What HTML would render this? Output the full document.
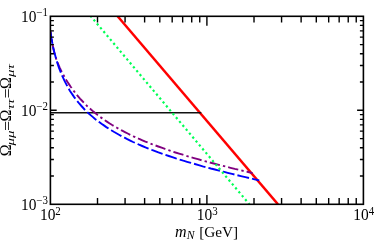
<!DOCTYPE html>
<html><head><meta charset="utf-8"><title>plot</title>
<style>
html,body{margin:0;padding:0;background:#fff;}
body{width:374px;height:241px;overflow:hidden;}
svg{display:block;}
</style></head><body>
<svg width="374" height="241" viewBox="0 0 374 241">
<rect x="0" y="0" width="374" height="241" fill="#fff"/>
<clipPath id="c"><rect x="50.4" y="16.3" width="313.0" height="188.0"/></clipPath>
<g clip-path="url(#c)">
<path d="M117.63 16.3 L277.98 204.3" fill="none" stroke="#ff0000" stroke-width="2.5"/>
<path d="M50.4 112.7 L201.3 112.7" fill="none" stroke="#111" stroke-width="1.6"/>
<path d="M50.5 30.8L50.5 31.1L50.6 31.7L50.7 32.8L50.9 34.2L51.1 35.9L51.4 37.9L51.8 40.1L52.1 42.4L52.6 44.8L53.1 47.2L53.6 49.6L54.2 52.0L54.8 54.4L55.5 56.7L56.2 58.9L57.0 61.1L57.9 63.3L58.8 65.5L59.7 67.6L60.7 69.7L61.8 71.8L62.8 73.9L64.0 76.0L65.2 78.1L66.4 80.2L67.7 82.3L69.1 84.4L70.5 86.5L72.0 88.5L73.5 90.6L75.0 92.6L76.6 94.6L78.3 96.6L80.0 98.6L81.8 100.5L83.6 102.4L85.4 104.3L87.3 106.2L89.3 108.0L91.3 109.8L93.4 111.6L95.5 113.3L97.7 115.1L99.9 116.8L102.2 118.4L104.5 120.0L106.9 121.6L109.3 123.2L111.8 124.8L114.3 126.3L116.9 127.8L119.5 129.3L122.2 130.7L124.9 132.1L127.7 133.5L130.5 134.9L133.4 136.3L136.3 137.6L139.3 139.0L142.4 140.3L145.4 141.6L148.6 142.8L151.8 144.1L155.0 145.3L158.3 146.5L161.6 147.7L165.0 148.9L168.5 150.1L172.0 151.3L175.5 152.5L179.1 153.6L182.8 154.7L186.5 155.9L190.2 157.0L194.0 158.1L197.9 159.2L201.8 160.3L205.7 161.4L209.7 162.5L213.8 163.5L217.9 164.6L222.1 165.7L226.3 166.7L230.5 167.8L234.8 168.9L239.2 169.9L243.6 171.0L248.1 172.0L252.6 173.1" fill="none" stroke="#800080" stroke-width="1.9" stroke-dasharray="10.4 3.15 2.4 3.0" stroke-dashoffset="5.4"/>
<path d="M50.5 31.5L50.5 31.7L50.6 32.3L50.7 33.3L50.9 34.6L51.2 36.2L51.4 38.1L51.8 40.2L52.2 42.4L52.6 44.7L53.1 47.2L53.7 49.7L54.3 52.2L55.0 54.7L55.7 57.3L56.4 59.9L57.2 62.5L58.1 65.2L59.0 67.8L60.0 70.4L61.0 73.0L62.1 75.6L63.3 78.1L64.4 80.7L65.7 83.1L67.0 85.6L68.3 88.0L69.7 90.4L71.2 92.7L72.7 94.9L74.2 97.1L75.8 99.3L77.5 101.4L79.2 103.5L81.0 105.5L82.8 107.5L84.6 109.5L86.6 111.4L88.5 113.3L90.6 115.1L92.7 116.9L94.8 118.7L97.0 120.4L99.2 122.1L101.5 123.8L103.9 125.4L106.3 127.1L108.7 128.7L111.2 130.2L113.8 131.8L116.4 133.3L119.0 134.8L121.7 136.3L124.5 137.7L127.3 139.2L130.2 140.6L133.1 142.0L136.1 143.3L139.1 144.7L142.2 146.0L145.4 147.3L148.5 148.6L151.8 149.9L155.1 151.1L158.4 152.4L161.8 153.6L165.3 154.8L168.8 156.0L172.3 157.2L175.9 158.4L179.6 159.5L183.3 160.7L187.1 161.8L190.9 162.9L194.8 164.0L198.7 165.1L202.7 166.3L206.7 167.4L210.8 168.5L214.9 169.5L219.1 170.6L223.4 171.7L227.7 172.8L232.0 173.9L236.4 175.0L240.9 176.1L245.4 177.1L249.9 178.2L254.5 179.3L259.2 180.4" fill="none" stroke="#0000ff" stroke-width="1.9" stroke-dasharray="11.9 3.06" stroke-dashoffset="14.26"/>
<path d="M90.83 16.3 L249.42 204.3" fill="none" stroke="#00ff55" stroke-width="2.2" stroke-dasharray="2.2 2.91" stroke-dashoffset="0.79"/>
</g>
<path d="M97.51 204.30v-6.3M97.51 16.30v6.3M125.07 204.30v-6.3M125.07 16.30v6.3M144.62 204.30v-6.3M144.62 16.30v6.3M159.79 204.30v-6.3M159.79 16.30v6.3M172.18 204.30v-6.3M172.18 16.30v6.3M182.66 204.30v-6.3M182.66 16.30v6.3M191.73 204.30v-6.3M191.73 16.30v6.3M199.74 204.30v-6.3M199.74 16.30v6.3M206.90 204.30v-9.4M206.90 16.30v9.4M254.01 204.30v-6.3M254.01 16.30v6.3M281.57 204.30v-6.3M281.57 16.30v6.3M301.12 204.30v-6.3M301.12 16.30v6.3M316.29 204.30v-6.3M316.29 16.30v6.3M328.68 204.30v-6.3M328.68 16.30v6.3M339.16 204.30v-6.3M339.16 16.30v6.3M348.23 204.30v-6.3M348.23 16.30v6.3M356.24 204.30v-6.3M356.24 16.30v6.3M50.40 176.00h3.5M363.40 176.00h-3.5M50.40 159.45h3.5M363.40 159.45h-3.5M50.40 147.71h3.5M363.40 147.71h-3.5M50.40 138.60h3.5M363.40 138.60h-3.5M50.40 131.15h3.5M363.40 131.15h-3.5M50.40 124.86h3.5M363.40 124.86h-3.5M50.40 119.41h3.5M363.40 119.41h-3.5M50.40 114.60h3.5M363.40 114.60h-3.5M50.40 110.30h6.3M363.40 110.30h-6.3M50.40 82.00h3.5M363.40 82.00h-3.5M50.40 65.45h3.5M363.40 65.45h-3.5M50.40 53.71h3.5M363.40 53.71h-3.5M50.40 44.60h3.5M363.40 44.60h-3.5M50.40 37.15h3.5M363.40 37.15h-3.5M50.40 30.86h3.5M363.40 30.86h-3.5M50.40 25.41h3.5M363.40 25.41h-3.5M50.40 20.60h3.5M363.40 20.60h-3.5" fill="none" stroke="#000" stroke-width="1.4"/>
<rect x="50.4" y="16.3" width="313.0" height="188.0" fill="none" stroke="#000" stroke-width="1.6"/>
<g font-family="Liberation Serif, serif" font-size="15" fill="#000" style="will-change:opacity;opacity:0.999">
<text transform="translate(21.0,21.9) scale(1.03,1.045)">10</text><text transform="translate(36.35,16.30) scale(0.95,1.0)" font-size="11.5">−1</text>
<text transform="translate(21.0,115.65) scale(1.03,1.045)">10</text><text transform="translate(36.35,110.05) scale(0.95,1.0)" font-size="11.5">−2</text>
<text transform="translate(21.0,209.6) scale(1.03,1.045)">10</text><text transform="translate(36.35,204.00) scale(0.95,1.0)" font-size="11.5">−3</text>
<text transform="translate(40.0,220.2) scale(1.03,1.045)">10</text><text transform="translate(55.35,214.60) scale(0.95,1.0)" font-size="11.5">2</text>
<text transform="translate(196.8,220.2) scale(1.03,1.045)">10</text><text transform="translate(212.15,214.60) scale(0.95,1.0)" font-size="11.5">3</text>
<text transform="translate(353.3,220.4) scale(1.03,1.045)">10</text><text transform="translate(368.65,214.80) scale(0.95,1.0)" font-size="11.5">4</text>
<text x="174.9" y="236.6"><tspan font-style="italic" font-size="16">m</tspan><tspan font-style="italic" font-size="11.7" dy="2.8" dx="0.3">N</tspan></text>
<text transform="translate(199.25,236.7) scale(0.977,1)" font-size="15.6" style="font-kerning:none">[GeV]</text>
<text transform="translate(11.3,156.2) rotate(-90) scale(1.0,1)" font-size="16">Ω</text>
<text transform="translate(13.7,145.6) rotate(-90) scale(1.45,1)" font-size="10.3" font-style="italic">μμ</text>
<text transform="translate(12.8,131.0) rotate(-90) scale(1.12,1)" font-size="16">=</text>
<text transform="translate(11.3,121.6) rotate(-90) scale(1.0,1)" font-size="16">Ω</text>
<text transform="translate(13.7,109.5) rotate(-90) scale(1.45,1)" font-size="10.3" font-style="italic">ττ</text>
<text transform="translate(12.8,98.6) rotate(-90) scale(1.12,1)" font-size="16">=</text>
<text transform="translate(11.3,88.9) rotate(-90) scale(1.0,1)" font-size="16">Ω</text>
<text transform="translate(13.7,77.0) rotate(-90) scale(1.45,1)" font-size="10.3" font-style="italic">μτ</text>
</g>
</svg>
</body></html>
